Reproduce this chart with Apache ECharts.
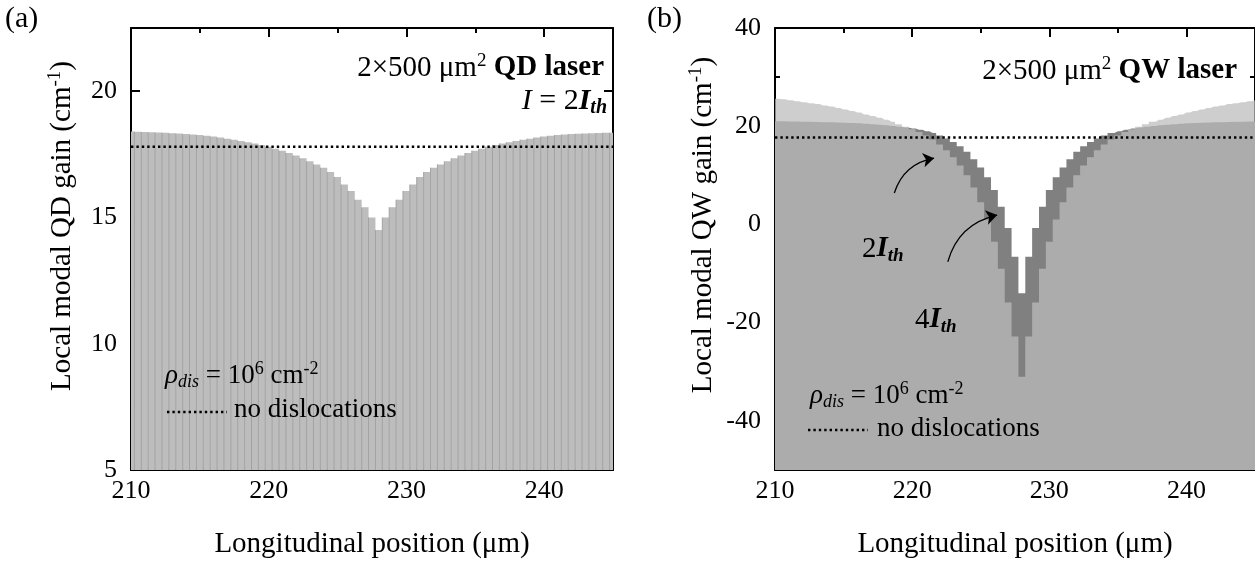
<!DOCTYPE html>
<html><head><meta charset="utf-8">
<script src="https://cdn.jsdelivr.net/npm/echarts@6/dist/echarts.min.js"></script>
<style>html,body{margin:0;padding:0;background:#fff}#c{width:1255px;height:567px}</style>
</head><body><div id="c"></div>
<script>
// ---------- data ----------
const xPositions = [210,210.5,211,211.5,212,212.5,213,213.5,214,214.5,215,215.5,216,216.5,217,217.5,218,218.5,219,219.5,220,220.5,221,221.5,222,222.5,223,223.5,224,224.5,225,225.5,226,226.5,227,227.5,228,228.5,229,229.5,230,230.5,231,231.5,232,232.5,233,233.5,234,234.5,235,235.5,236,236.5,237,237.5,238,238.5,239,239.5,240,240.5,241,241.5,242,242.5,243,243.5,244,244.5,245];
const qdGain = [18.4,18.39,18.38,18.37,18.36,18.35,18.33,18.32,18.3,18.28,18.26,18.23,18.2,18.16,18.12,18.08,18.03,17.98,17.93,17.87,17.8,17.72,17.64,17.55,17.45,17.34,17.22,17.1,16.97,16.8,16.6,16.3,16.05,15.7,15.4,15.0,14.5,
  15.0,15.4,15.7,16.05,16.3,16.6,16.8,16.97,17.1,17.22,17.34,17.45,17.55,17.64,17.72,17.8,17.87,17.93,17.98,18.03,18.08,18.12,18.16,18.2,18.23,18.26,18.28,18.3,18.31,18.32,18.33,18.34,18.35,18.35];
const qwGain2Ith = [21.0,21.0,20.95,20.95,20.9,20.9,20.85,20.8,20.8,20.75,20.7,20.65,20.6,20.5,20.4,20.3,20.2,20.05,19.9,19.75,19.55,19.3,19.0,18.6,18.1,17.5,16.8,15.9,14.8,13.3,11.6,9.6,7.0,3.6,-0.7,-6.6,-14.0,
  -6.6,-0.7,3.6,7.0,9.6,11.6,13.3,14.8,15.9,16.8,17.5,18.1,18.6,19.0,19.3,19.55,19.75,19.9,20.05,20.2,20.3,20.4,20.5,20.6,20.65,20.7,20.75,20.8,20.8,20.85,20.9,20.9,20.95,20.95];
const qwGain4Ith = [25.6,25.5,25.3,25.1,24.9,24.7,24.5,24.2,24.0,23.7,23.4,23.1,22.8,22.4,22.1,21.7,21.3,20.9,20.4,19.9,19.4,18.8,18.1,17.3,16.3,15.1,13.7,12.0,10.0,7.5,4.5,1.0,-3.5,-9.0,-15.9,-22.8,-31.0,
  -22.8,-15.9,-9.0,-3.5,1.0,4.5,7.5,10.0,12.0,13.7,15.1,16.3,17.3,18.1,18.8,19.4,19.9,20.4,20.9,21.3,21.7,22.1,22.4,22.8,23.1,23.4,23.7,24.0,24.2,24.5,24.7,24.9,25.1,25.3];
const noDislocQD = 17.8;
const noDislocQW = 17.7;
const xRange = [210, 245];
const qdRange = [5, 22.5];
const qwRange = [-50, 40];
const xTicksMajor = [210,220,230,240];
const xTicksMinor = [215,225,235];
const qdTicksMajor = [5,10,15,20];
const qdTicksMinor = [7.5,12.5,17.5];
const qwTicksMajor = [-40,-20,0,20,40];
const qwTicksMinor = [-30,-10,10,30];
const arrow2Ith = [[218.7,6.4],[221.6,13.5]];
const arrow4Ith = [[222.6,-7.6],[226.2,1.9]];

// ---------- helpers ----------
const FONT = 'Liberation Serif';
const FS_TICK = 26;
const FS = 29;
const FS_LEG = 27;
function zip(xs, ys){ return xs.map((x,i)=>[x, ys[i]]); }
function axes(dim, grid, range, majors, minors, name, nameGap){
  const isX = dim === 'x';
  const p1 = isX ? 'bottom' : 'left', p2 = isX ? 'top' : 'right';
  const base = {type:'value', gridIndex:grid, min:range[0], max:range[1], splitLine:{show:false},
    axisLine:{show:false, onZero:false}, axisLabel:{show:false}, axisPointer:{show:false}};
  const line = {show:true, onZero:false, lineStyle:{color:'#000', width:2}};
  const tick = (len, vals)=>({show:true, inside:true, length:len, customValues:vals, lineStyle:{color:'#000', width:2}});
  const main = Object.assign({}, base, {position:p1, axisLine:line, axisTick:tick(9, majors),
      axisLabel:{show:true, customValues:majors, color:'#000', fontFamily:FONT, fontSize:FS_TICK, margin: isX?8:14}});
  if (name) {
    main.name = name; main.nameLocation = 'middle'; main.nameGap = nameGap;
    main.nameTextStyle = {color:'#000', fontFamily:FONT, fontSize:FS};
  }
  return [
    main,
    Object.assign({}, base, {position:p1, axisTick:tick(5, minors)}),
    Object.assign({}, base, {position:p2, axisLine:line, axisTick:tick(9, majors)}),
    Object.assign({}, base, {position:p2, axisTick:tick(5, minors)})
  ];
}
function richStyles(fs, sub){
  const lh = fs + 4;
  return {
    n:{fontFamily:FONT, fontSize:fs, color:'#000', lineHeight:lh},
    i:{fontFamily:FONT, fontSize:fs, fontStyle:'italic', color:'#000', lineHeight:lh},
    b:{fontFamily:FONT, fontSize:fs, fontWeight:'bold', color:'#000', lineHeight:lh},
    bi:{fontFamily:FONT, fontSize:fs, fontWeight:'bold', fontStyle:'italic', color:'#000', lineHeight:lh},
    sup:{fontFamily:FONT, fontSize:sub, color:'#000', verticalAlign:'top', lineHeight:sub},
    sub:{fontFamily:FONT, fontSize:sub, fontStyle:'italic', color:'#000', verticalAlign:'bottom', lineHeight:sub},
    subb:{fontFamily:FONT, fontSize:sub, fontStyle:'italic', fontWeight:'bold', color:'#000', verticalAlign:'bottom', lineHeight:sub}
  };
}
function txt(x, y, text, align, fs, rot){
  fs = fs || FS;
  const el = {type:'text', x:x, y:y, z:100, style:{text:text, rich:richStyles(fs, Math.round(fs*0.66)), fill:'#000',
    font: fs+'px '+FONT, align:align||'left', textAlign:align||'left', verticalAlign:'middle', textVerticalAlign:'middle'}};
  if (rot) el.rotation = rot;
  return el;
}
function dotted(x1, x2, y){
  return {type:'line', z:100, shape:{x1:x1, y1:y, x2:x2, y2:y}, style:{stroke:'#000', lineWidth:2.4, lineDash:[2.4,3]}};
}

const xa = axes('x', 0, xRange, xTicksMajor, xTicksMinor, 'Longitudinal position (μm)', 60);
const ya = axes('y', 0, qdRange, qdTicksMajor, qdTicksMinor);
const xb = axes('x', 1, xRange, xTicksMajor, xTicksMinor, 'Longitudinal position (μm)', 60);
const yb = axes('y', 1, qwRange, qwTicksMajor, qwTicksMinor);

const option = {
  animation:false,
  backgroundColor:'#fff',
  grid:[
    {left:131, top:28, width:482, height:442},
    {left:775, top:28, width:483, height:442}
  ],
  xAxis: xa.concat(xb),
  yAxis: ya.concat(yb),
  series:[
    {type:'custom', xAxisIndex:0, yAxisIndex:0, clip:true, data: zip(xPositions, qdGain),
      renderItem:function(params, api){
        const x = api.value(0), v = api.value(1);
        const tl = api.coord([x - 0.25, v]);
        const br = api.coord([x + 0.25, qdRange[0]]);
        return {type:'group', children:[
          {type:'rect', shape:{x:tl[0], y:tl[1], width:br[0]-tl[0], height:br[1]-tl[1]}, style:{fill:'#bdbdbd'}},
          {type:'line', shape:{x1:tl[0], y1:tl[1], x2:tl[0], y2:br[1]}, style:{stroke:'#a2a2a2', lineWidth:1}}
        ]};
      }},
    {type:'line', xAxisIndex:0, yAxisIndex:0, data: zip(xRange, [noDislocQD, noDislocQD]), showSymbol:false, symbol:'none',
      lineStyle:{color:'#000', width:2.4, type:[2.4,3]}, z:5},
    {type:'line', xAxisIndex:4, yAxisIndex:4, data: zip(xPositions, qwGain2Ith), step:'middle', showSymbol:false, symbol:'none',
      lineStyle:{width:0}, areaStyle:{color:'#808080', opacity:1, origin:'start'}, z:2},
    {type:'line', xAxisIndex:4, yAxisIndex:4, data: zip(xPositions, qwGain4Ith), step:'middle', showSymbol:false, symbol:'none',
      lineStyle:{width:0}, areaStyle:{color:'rgb(188,188,188)', opacity:0.732, origin:'start'}, z:3},
    {type:'line', xAxisIndex:4, yAxisIndex:4, data: zip(xRange, [noDislocQW, noDislocQW]), showSymbol:false, symbol:'none',
      lineStyle:{color:'#000', width:2.4, type:[2.4,3]}, z:5},
    {type:'lines', coordinateSystem:'cartesian2d', xAxisIndex:4, yAxisIndex:4, z:6,
      symbol:['none','arrow'], symbolSize:11,
      lineStyle:{color:'#000', width:1.3, curveness:0.3, opacity:1},
      data:[{coords:arrow2Ith},{coords:arrow4Ith}]}
  ],
  graphic:[
    txt(5, 19, '{n|(a)}', 'left', 30),
    txt(647, 19, '{n|(b)}', 'left', 30),
    txt(62, 226, '{n|Local modal QD gain (cm}{sup|-1}{n|)}', 'center', FS, Math.PI/2),
    txt(703, 225, '{n|Local modal QW gain (cm}{sup|-1}{n|)}', 'center', FS, Math.PI/2),
    txt(604, 68, '{n|2×500 μm}{sup|2}{n| }{b|QD laser}', 'right'),
    txt(607, 101, '{i|I}{n| = 2}{bi|I}{subb|th}', 'right', 30),
    txt(165, 376, '{i|ρ}{sub|dis}{n| = 10}{sup|6}{n| cm}{sup|-2}', 'left', FS_LEG),
    dotted(167, 227, 412),
    txt(234, 410, '{n|no dislocations}', 'left', FS_LEG),
    txt(1237, 71, '{n|2×500 μm}{sup|2}{n| }{b|QW laser}', 'right'),
    txt(862, 249, '{n|2}{bi|I}{subb|th}'),
    txt(915, 320, '{n|4}{bi|I}{subb|th}'),
    txt(810, 396, '{i|ρ}{sub|dis}{n| = 10}{sup|6}{n| cm}{sup|-2}', 'left', FS_LEG),
    dotted(808, 868, 430),
    txt(877, 429, '{n|no dislocations}', 'left', FS_LEG)
  ]
};
const chart = echarts.init(document.getElementById('c'), null, {renderer:'canvas'});
chart.setOption(option);
</script>
</body></html>
